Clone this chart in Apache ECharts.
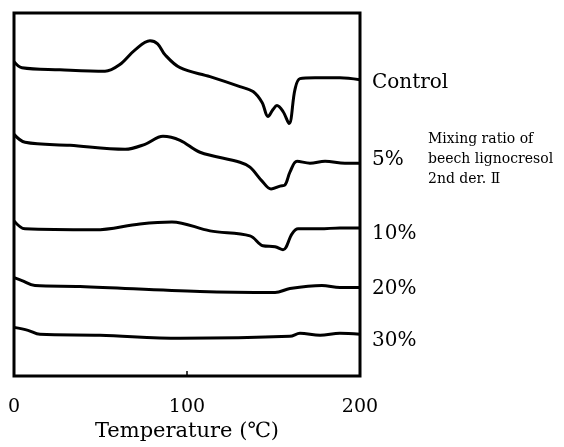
<!DOCTYPE html>
<html>
<head>
<meta charset="utf-8">
<script src="https://cdn.jsdelivr.net/npm/echarts@6/dist/echarts.min.js"></script>
<style>
  html, body { margin: 0; padding: 0; background: #fff; }
  #chart { width: 564px; height: 447px; }
</style>
</head>
<body>
<div id="chart"></div>
<script>
// DSC traces, temperature (°C) and relative heat flow (arbitrary units, endo down)
const controlT = [0, 4.6, 26.6, 52.6, 61, 70, 78.6, 83, 87.3, 96, 113.3, 130.6, 138.2, 143.4, 146.8, 149.7, 152, 155.5, 159, 162.4, 165.3, 174, 188.4, 200];
const controlY = [316, 310, 308, 306.5, 313, 328, 337, 334, 323, 310, 301, 291, 286, 275, 261, 268, 272, 266, 254, 288, 299, 300, 300, 298];
const p5T = [0, 6.4, 32.4, 64.2, 75.7, 86.1, 96, 107.5, 130.6, 136.4, 143.4, 148.6, 153.8, 156.6, 159.5, 163.6, 171.1, 179.8, 191.3, 200];
const p5Y = [243, 235, 232, 228, 233, 241, 237, 225, 215, 210, 196, 188, 191, 192, 205, 216, 214, 216, 214, 214];
const p10T = [0, 6.4, 46.8, 72.8, 91.3, 113.3, 136.4, 143.9, 150.9, 155.5, 160.7, 164.2, 176.9, 188.4, 200];
const p10Y = [156, 148, 147, 153, 155, 146, 141, 131, 130, 127, 143, 148, 148, 149, 149];
const p20T = [0, 4.6, 12.1, 38.2, 107.5, 150.9, 159.5, 178, 188.4, 200];
const p20Y = [99, 96, 91, 90, 85, 84, 88, 91, 89, 89];
const p30T = [0, 8.1, 15, 49.7, 96, 159.5, 165.3, 176.9, 188.4, 200];
const p30Y = [49, 46, 42, 41, 38, 40, 43, 41, 43, 42];

const names = ['Control', '5%', '10%', '20%', '30%'];
const labelShift = [3, -3, 6, 1, 6];
const xTicks = [0, 100, 200];

const serif = '"DejaVu Serif", "Liberation Serif", serif';
const traces = [[controlT, controlY], [p5T, p5Y], [p10T, p10Y], [p20T, p20Y], [p30T, p30Y]];

const chart = echarts.init(document.getElementById('chart'));
chart.setOption({
  animation: false,
  backgroundColor: '#fff',
  grid: {
    left: 14, right: 204, top: 13, bottom: 69,
    show: true, borderColor: '#000', borderWidth: 3
  },
  xAxis: {
    type: 'value', min: 0, max: 200, interval: 100,
    name: 'Temperature (℃)', nameLocation: 'middle', nameGap: 44,
    nameTextStyle: { fontFamily: serif, fontSize: 21, color: '#000' },
    axisLine: { show: false },
    axisTick: { show: true, inside: true, length: 5, lineStyle: { color: '#000', width: 1.5 } },
    axisLabel: {
      margin: 21, fontFamily: serif, fontSize: 19, color: '#000',
      formatter: v => xTicks.includes(v) ? String(v) : ''
    },
    splitLine: { show: false }
  },
  yAxis: { type: 'value', min: 0, max: 365, show: false },
  series: traces.map((tr, i) => ({
    name: names[i],
    type: 'line',
    data: tr[0].map((t, k) => [t, tr[1][k]]),
    smooth: 0.35,
    showSymbol: false,
    lineStyle: { color: '#000', width: 3 },
    endLabel: {
      show: true,
      formatter: names[i],
      distance: 12,
      offset: [0, labelShift[i]],
      fontFamily: serif,
      fontSize: 20,
      color: '#000'
    }
  })),
  graphic: [{
    type: 'text', left: 428, top: 129,
    style: {
      text: 'Mixing ratio of\nbeech lignocresol\n2nd der. Ⅱ',
      font: '14px ' + serif, fill: '#000', lineHeight: 20
    }
  }]
});
</script>
</body>
</html>
